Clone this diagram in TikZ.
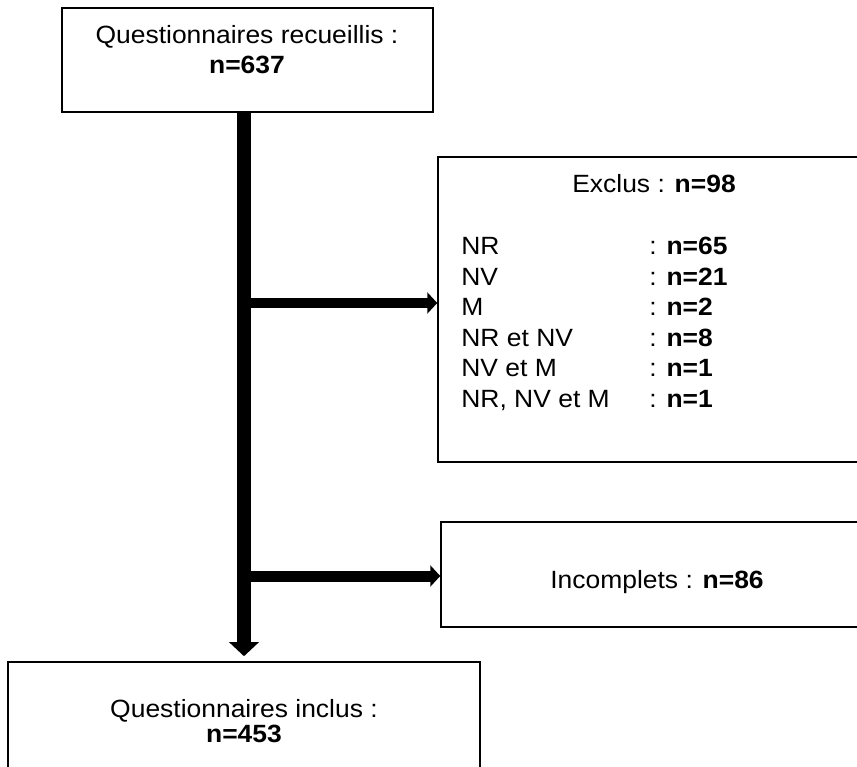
\documentclass[tikz,border=0pt]{standalone}
\usepackage{fontspec}
\setmainfont[FakeStretch = 1.06]{Liberation Sans}
\usetikzlibrary{arrows.meta}

\tikzset{
	boite/.style = {draw, line width = 0.9pt, inner sep = 0pt},
	grand/.style = {align = center, inner sep = 0pt, font = \fontsize{14.2}{17.6}\selectfont},
	petit/.style = {inner sep = 0pt, font = \fontsize{14.2}{17}\selectfont},
	flux/.style = {line width = 0.28cm, -{Triangle[length = 0.28cm, width = 0.58cm]}},
	branche/.style = {line width = 0.22cm, -{Triangle[length = 0.2cm, width = 0.42cm]}}
}

\begin{document}
\begin{tikzpicture}[x = 0.02cm, y = -0.02cm]
				%	cadre
				\useasboundingbox (0, 0) rectangle (857, 766);
				\clip (0, 0) rectangle (857, 766);
				
				%	boites
				\node[boite, minimum width = 7.42cm, minimum height = 2.08cm] (recueillis) at (247.5, 60) {};
				\node[boite, minimum width = 8.64cm, minimum height = 6.1cm] (exclus) at (654, 309.5) {};
				\node[boite, minimum width = 8.58cm, minimum height = 2.1cm] (incomplets) at (655.5, 574.5) {};
				\node[boite, minimum width = 9.44cm, minimum height = 2.36cm] (inclus) at (244, 721) {};
				
				%	textes
				\node[grand, anchor = base] (t-recueillis) at (247, 74) {Questionnaires recueillis :\\\textbf{n=637}};
				\node[grand, anchor = base, font = \fontsize{14.2}{14.2}\selectfont] (t-inclus) at (244, 742) {Questionnaires inclus :\\\textbf{n=453}};
				\node[petit, anchor = base] (t-exclus) at (654, 193) {Exclus : \textbf{n=98}};
				\node[petit, anchor = base] (t-incomplets) at (657, 588) {Incomplets : \textbf{n=86}};
				
				%	motifs d'exclusion
				\foreach \motif/\n [count = \i] in {NR/65, NV/21, M/2, NR et NV/8, NV et M/1, {NR, NV et M}/1}
				{
					\node[petit, anchor = base west] (motif\i) at (461, 255 + 30.4*\i - 30.4) {\motif};
					\node[petit, anchor = base west] (n\i) at (649, 255 + 30.4*\i - 30.4) {: \textbf{n=\n}};
				}
				
				%	fleches
				\coordinate (b1) at (245, 303);
				\coordinate (b2) at (245, 576);
				\draw[flux, shorten > = 0.1cm] (recueillis.south -| inclus.north) -- (inclus.north);
				\draw[branche] (b1) -- (b1 -| exclus.west);
				\draw[branche] (b2) -- (b2 -| incomplets.west);
				\end{tikzpicture}
\end{document}
